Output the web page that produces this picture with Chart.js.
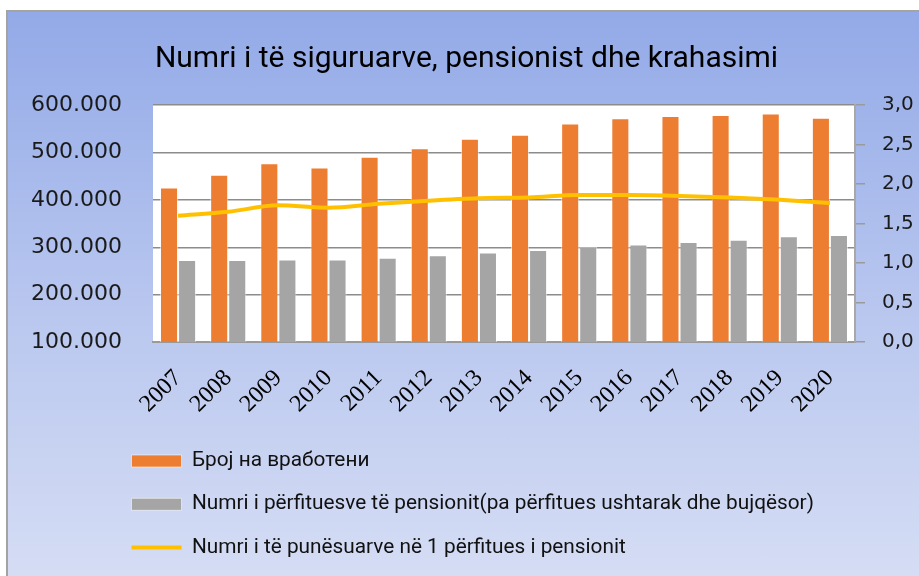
<!DOCTYPE html>
<html>
<head>
<meta charset="utf-8">
<script src="https://cdn.jsdelivr.net/npm/chart.js@4.4.1/dist/chart.umd.min.js"></script>
<style>
  html, body { margin: 0; padding: 0; background: #fff; overflow: hidden; }
  #frame {
    position: absolute; left: 6px; top: 10px; width: 940px; height: 600px;
    border-top: 2px solid #a3a3a3; border-left: 2px solid #a3a3a3;
    background: linear-gradient(to bottom, #93aae8 0%, #b9c7ef 50%, #d9e0f5 100%);
  }
  #wrap { position: absolute; left: 0; top: 0; width: 919px; height: 576px; }
</style>
</head>
<body>
<div id="frame"></div>
<div id="wrap"><canvas id="chart" width="919" height="576"></canvas></div>
<script>
const years = ['2007', '2008', '2009', '2010', '2011', '2012', '2013', '2014', '2015', '2016', '2017', '2018', '2019', '2020'];
const employed = [426000, 453000, 477000, 468000, 491000, 509000, 529000, 537000, 561000, 572000, 577000, 579000, 582000, 573000];
const pensioners = [273000, 273000, 274000, 274000, 278000, 283000, 289000, 294000, 301000, 306000, 311000, 316000, 323000, 326000];
const ratio = [1.60, 1.65, 1.73, 1.70, 1.75, 1.79, 1.82, 1.83, 1.86, 1.86, 1.85, 1.83, 1.80, 1.76];

const seriesNames = [
  'Број на вработени',
  'Numri i përfituesve të pensionit(pa përfitues ushtarak dhe bujqësor)',
  'Numri i të punësuarve në 1 përfitues i pensionit'
];

// white plot area
const plotBg = {
  id: 'plotBg',
  beforeDraw(chart) {
    const { ctx, chartArea: a } = chart;
    ctx.save();
    ctx.fillStyle = '#ffffff';
    ctx.fillRect(a.left, a.top, a.right - a.left, a.bottom - a.top);
    ctx.restore();
  }
};

// legend starts a bit left of the plot area, title sits a bit right of centre
const nudge = {
  id: 'nudge',
  afterLayout(chart) {
    chart.legend.left -= 44;
    chart.titleBlock.left += 7;
    chart.titleBlock.right += 7;
  }
};

const ctx = document.getElementById('chart');
new Chart(ctx, {
  type: 'bar',
  data: {
    labels: years,
    datasets: [
      {
        label: seriesNames[0],
        data: employed,
        backgroundColor: '#ed7d31',
        borderColor: 'rgba(255,255,255,0.55)',
        borderWidth: 1,
        yAxisID: 'y',
        order: 1,
        pointStyle: 'rect'
      },
      {
        label: seriesNames[1],
        data: pensioners,
        backgroundColor: '#a5a5a5',
        borderColor: 'rgba(255,255,255,0.55)',
        borderWidth: 1,
        yAxisID: 'y',
        order: 2,
        pointStyle: 'rect'
      },
      {
        type: 'line',
        label: seriesNames[2],
        data: ratio,
        borderColor: '#ffc000',
        backgroundColor: '#ffc000',
        borderWidth: 4,
        pointRadius: 0,
        cubicInterpolationMode: 'monotone',
        yAxisID: 'y1',
        order: 0,
        pointStyle: 'line'
      }
    ]
  },
  options: {
    responsive: false,
    animation: false,
    devicePixelRatio: 1,
    layout: { padding: { left: 0, right: 0, top: 0, bottom: 8 } },
    datasets: {
      bar: { categoryPercentage: 0.72, barPercentage: 1 }
    },
    scales: {
      x: {
        grid: { display: false, drawTicks: false },
        border: { color: '#9a9a9a', width: 2 },
        ticks: {
          color: '#000',
          font: { family: 'Liberation Serif', size: 24 },
          minRotation: 45,
          maxRotation: 45,
          padding: 22
        },
        afterFit(scale) { scale.height = 86; }
      },
      y: {
        position: 'left',
        min: 100000,
        max: 600000,
        grid: { color: '#8c8c8c', lineWidth: 1.5, drawTicks: false },
        border: { display: false },
        ticks: {
          stepSize: 100000,
          padding: 31,
          color: '#1a1a1a',
          font: { family: 'DejaVu Sans', size: 22 },
          callback: v => v.toLocaleString('de-DE')
        },
        afterFit(scale) { scale.width = 153; }
      },
      y1: {
        position: 'right',
        min: 0,
        max: 3,
        grid: { drawOnChartArea: false, color: '#9a9a9a', tickLength: 10, lineWidth: 1.5 },
        border: { color: '#a8a8a8', width: 2 },
        ticks: {
          stepSize: 0.5,
          padding: 17,
          color: '#1a1a1a',
          font: { family: 'DejaVu Sans', size: 20 },
          callback: v => v.toFixed(1).replace('.', ',')
        },
        afterFit(scale) { scale.width = 64; }
      }
    },
    plugins: {
      title: {
        display: true,
        text: 'Numri i të siguruarve, pensionist dhe krahasimi',
        color: '#000',
        font: { family: 'Roboto', size: 30, weight: 'normal' },
        padding: { top: 41, bottom: 28 }
      },
      legend: {
        position: 'bottom',
        align: 'start',
        fullSize: false,
        labels: {
          usePointStyle: true,
          pointStyleWidth: 50,
          boxHeight: 12,
          padding: 22.5,
          color: '#111',
          font: { family: 'Roboto', size: 20.8 },
          sort: (a, b) => a.datasetIndex - b.datasetIndex
        }
      },
      tooltip: { enabled: false }
    }
  },
  plugins: [plotBg, nudge]
});
</script>
</body>
</html>
